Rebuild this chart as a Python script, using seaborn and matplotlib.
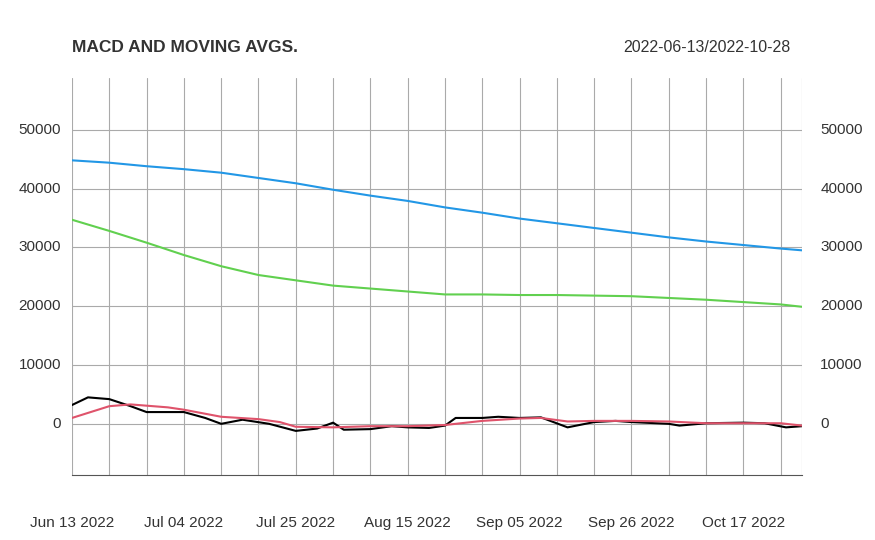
import matplotlib
matplotlib.use("Agg")
import matplotlib.pyplot as plt
import seaborn as sns
import pandas as pd

weekly_dates = pd.date_range("2022-06-13", "2022-10-24", freq="7D").append(pd.DatetimeIndex(["2022-10-28"]))
blue_vals = [44800,44400,43800,43300,42700,41800,40900,39800,38800,37900,36800,35900,34900,34100,33300,32500,31700,31000,30400,29800,29500]
green_vals = [34700,32800,30800,28700,26800,25300,24400,23500,23000,22500,22000,22000,21900,21900,21800,21700,21400,21100,20700,20300,19900]

macd_dates = pd.to_datetime(["2022-06-13","2022-06-16","2022-06-20","2022-06-24","2022-06-27","2022-07-04","2022-07-08","2022-07-11","2022-07-15","2022-07-20","2022-07-25","2022-07-29","2022-08-01","2022-08-03","2022-08-08","2022-08-12","2022-08-15","2022-08-19","2022-08-22","2022-08-24","2022-08-29","2022-09-01","2022-09-05","2022-09-09","2022-09-14","2022-09-19","2022-09-23","2022-09-26","2022-10-03","2022-10-05","2022-10-10","2022-10-17","2022-10-21","2022-10-25","2022-10-28"])
macd_vals = [3200,4500,4200,3000,2000,2000,1000,0,700,0,-1200,-800,200,-1000,-900,-400,-600,-700,-300,1000,1000,1200,1000,1100,-600,300,500,300,0,-300,100,200,100,-600,-400]
sig_dates = pd.to_datetime(["2022-06-13","2022-06-20","2022-06-24","2022-07-01","2022-07-04","2022-07-11","2022-07-18","2022-07-22","2022-07-25","2022-08-01","2022-08-08","2022-08-15","2022-08-22","2022-08-29","2022-09-05","2022-09-09","2022-09-14","2022-09-19","2022-09-26","2022-10-03","2022-10-10","2022-10-17","2022-10-24","2022-10-28"])
sig_vals = [1000,3000,3300,2800,2400,1200,800,300,-500,-600,-400,-400,-200,500,900,1000,400,500,500,400,100,100,100,-300]

sns.set_style("white")
plt.rcParams['font.family'] = ['Liberation Sans', 'DejaVu Sans']
fig = plt.figure(figsize=(8.75, 5.4), dpi=100)
ax = fig.add_axes([72/875, 65/540, 730/875, 397/540])

sns.lineplot(x=weekly_dates, y=blue_vals, ax=ax, color="#2297E6", lw=1.5)
sns.lineplot(x=weekly_dates, y=green_vals, ax=ax, color="#61D04F", lw=1.5)
sns.lineplot(x=macd_dates, y=macd_vals, ax=ax, color="black", lw=1.5)
sns.lineplot(x=sig_dates, y=sig_vals, ax=ax, color="#DF536B", lw=1.5)

ax.set_xlim(pd.Timestamp("2022-06-13"), pd.Timestamp("2022-10-28"))
ax.set_ylim(-8700, 58800)
for y in range(0, 60000, 10000):
    ax.axhline(y, color="#AAAAAA", lw=0.8, zorder=0)
for d in pd.date_range("2022-06-13", "2022-10-28", freq="7D"):
    ax.axvline(d, color="#AAAAAA", lw=0.8, zorder=0)
ax.axvline(pd.Timestamp("2022-10-28"), color="#AAAAAA", lw=0.8, zorder=0)

for s in ["top", "left", "right"]:
    ax.spines[s].set_visible(False)
ax.spines["bottom"].set_color("#555555")
ax.set_yticks([])
ax.set_xticks(list(pd.date_range("2022-06-13", "2022-10-28", freq="7D")) + [pd.Timestamp("2022-10-28")])
ax.set_xticklabels([])
ax.tick_params(axis="x", length=5, color="#555555", direction="out")
for d in pd.date_range("2022-06-13", "2022-10-28", freq="21D"):
    ax.text(d, -0.12, d.strftime("%b %d %Y"), transform=ax.get_xaxis_transform(),
            ha="center", va="center", fontsize=11, color="#333333")
for y in range(0, 60000, 10000):
    ax.text(-0.015, y, str(y), transform=ax.get_yaxis_transform(), ha="right", va="center", fontsize=11, color="#333333")
    ax.text(1.025, y, str(y), transform=ax.get_yaxis_transform(), ha="left", va="center", fontsize=11, color="#333333")
ax.set_xlabel(""); ax.set_ylabel("")
fig.text(72/875, 1-48/540, "MACD AND MOVING AVGS.", fontsize=12.5, fontweight="bold", color="#333333", va="center")
fig.text(790/875, 1-48/540, "2022-06-13/2022-10-28", fontsize=11.5, color="#333333", va="center", ha="right")
fig.savefig("out.png", dpi=100)
